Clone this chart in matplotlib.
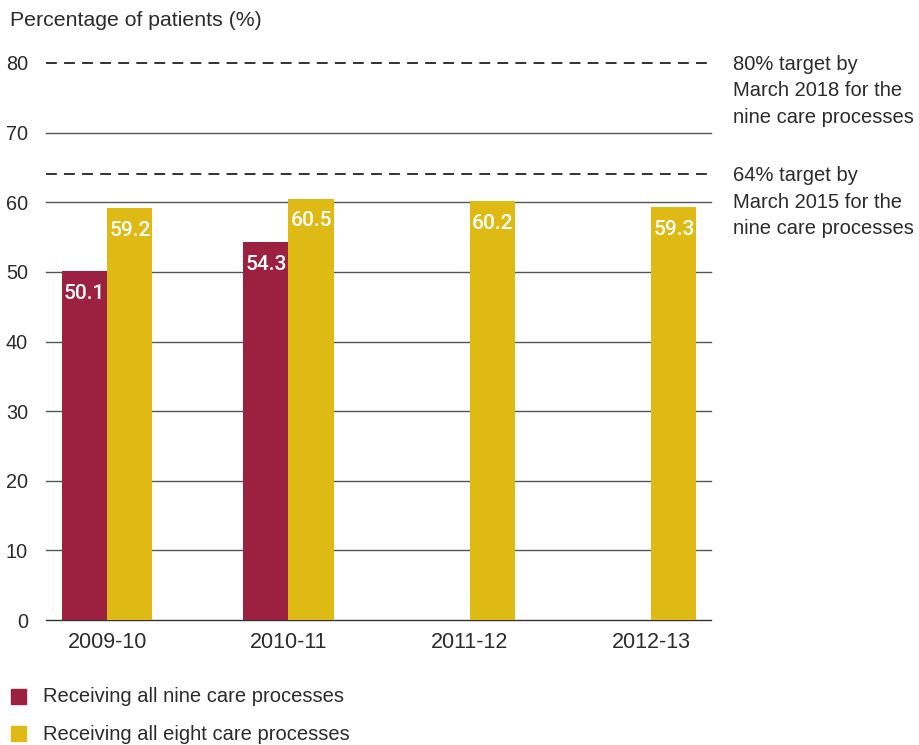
import matplotlib.pyplot as plt
from matplotlib.patches import Rectangle
import numpy as np

plt.rcParams['font.family'] = ['Liberation Sans', 'DejaVu Sans']

years = ['2009-10', '2010-11', '2011-12', '2012-13']
nine_processes = [50.1, 54.3, None, None]
eight_processes = [59.2, 60.5, 60.2, 59.3]
targets = [80, 64]
target_labels = ['80% target by\nMarch 2018 for the\nnine care processes',
                 '64% target by\nMarch 2015 for the\nnine care processes']

red = '#9c2140'
gold = '#dfb914'
txt = '#2b2b2b'

fig = plt.figure(figsize=(9.19, 7.45), dpi=100)
ax = fig.add_axes([46/919, 1 - 620/745, 665/919, 557/745])

x = np.arange(len(years))
w = 0.25


def value_label(xpos, v):
    ax.annotate(f'{v:.1f}', (xpos, v), xytext=(0, -16), textcoords='offset points',
                ha='center', va='center', color='white', fontsize=15,
                family=['Roboto', 'Liberation Sans'], fontweight=500, zorder=4)


for i, v in enumerate(nine_processes):
    if v is None:
        continue
    ax.bar(x[i] - w/2, v, w, color=red, zorder=3)
    value_label(x[i] - w/2, v)
for i, v in enumerate(eight_processes):
    ax.bar(x[i] + w/2, v, w, color=gold, zorder=3)
    value_label(x[i] + w/2, v)

# solid gridlines, dashed target lines
for g in range(0, 80, 10):
    ax.axhline(g, color='#333333' if g == 0 else '#555555', lw=1.0, zorder=1, clip_on=False)
for t, lab in zip(targets, target_labels):
    ax.axhline(t, color='#222222', lw=1.3, ls=(0, (6, 4)), zorder=2, clip_on=False)
    ax.text(1.033, t + 1.2, lab, transform=ax.get_yaxis_transform(), ha='left', va='top',
            fontsize=14.5, color=txt, linespacing=1.5)

ax.set_xlim(-0.337, 3.33)
ax.set_ylim(0, 80)
ax.set_xticks(x)
ax.set_xticklabels(years, fontsize=15.5, color=txt)
ax.set_yticks(range(0, 81, 10))
ax.set_yticklabels([str(v) for v in range(0, 81, 10)], fontsize=14.3, color=txt)
ax.tick_params(length=0, axis='y', pad=13)
ax.tick_params(length=0, axis='x', pad=9)
for s in ax.spines.values():
    s.set_visible(False)

fig.text(10/919, 1 - 20/745, 'Percentage of patients (%)', fontsize=15.3, color=txt,
         ha='left', va='center')

# legend drawn as squares + text in figure coords
legend_items = [('Receiving all nine care processes', red),
                ('Receiving all eight care processes', gold)]
for k, (lab, c) in enumerate(legend_items):
    yc = 697 + k * 37
    fig.patches.append(Rectangle((11/919, 1 - (yc + 7)/745), 15/919, 15/745,
                                 transform=fig.transFigure, color=c))
    fig.text(43/919, 1 - yc/745, lab, fontsize=14.5, color=txt, ha='left', va='center')

fig.savefig('out.png', dpi=100)
